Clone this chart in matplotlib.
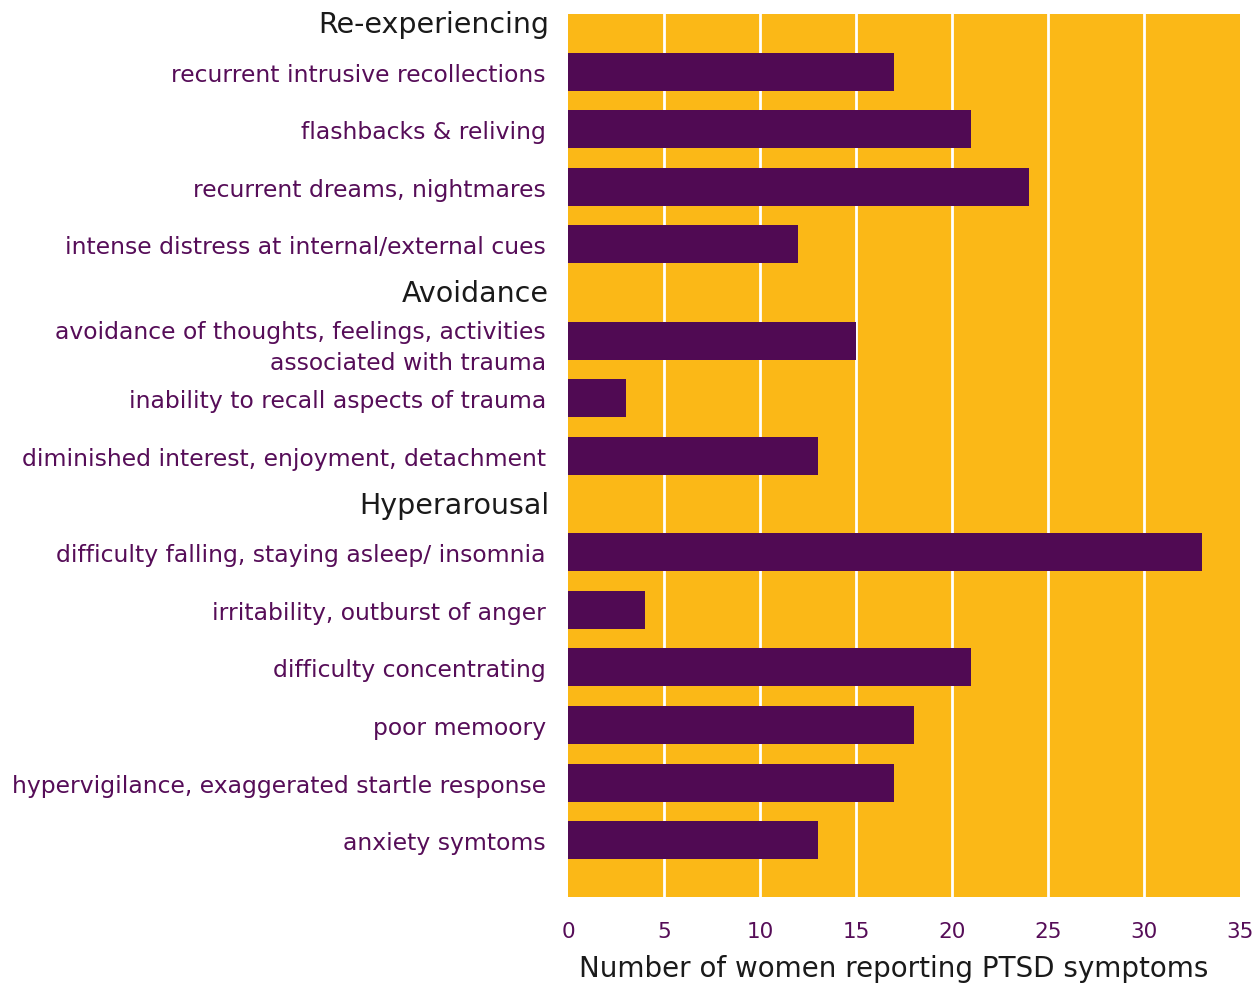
import matplotlib
matplotlib.use("Agg")
import matplotlib.pyplot as plt
import numpy as np

sections = ["Re-experiencing", "Avoidance", "Hyperarousal"]
section_of = [0, 0, 0, 0, 1, 1, 1, 2, 2, 2, 2, 2, 2]
labels = [
    "recurrent intrusive recollections",
    "flashbacks & reliving",
    "recurrent dreams, nightmares",
    "intense distress at internal/external cues",
    "avoidance of thoughts, feelings, activities\nassociated with trauma",
    "inability to recall aspects of trauma",
    "diminished interest, enjoyment, detachment",
    "difficulty falling, staying asleep/ insomnia",
    "irritability, outburst of anger",
    "difficulty concentrating",
    "poor memoory",
    "hypervigilance, exaggerated startle response",
    "anxiety symtoms",
]
values = [17, 21, 24, 12, 15, 3, 13, 33, 4, 21, 18, 17, 13]
xticks = [0, 5, 10, 15, 20, 25, 30, 35]
xlabel = "Number of women reporting PTSD symptoms"

ORANGE = "#FBB817"
PURPLE = "#500A53"
TEXT_PURPLE = "#560D58"

plt.rcParams['font.family'] = ['DejaVu Sans']

fig = plt.figure(figsize=(12.59, 9.87), dpi=100)
ax = fig.add_axes([568/1259, 1 - 898/987, (1240-568)/1259, (898-15)/987])
ax.set_facecolor(ORANGE)

gap = 0.68
pos = np.arange(len(values)) + gap * np.array(section_of)
ax.barh(pos, values, height=0.66, color=PURPLE, zorder=3)

ax.set_xlim(0, 35)
ax.set_ylim(14.35, -1.0)
ax.set_xticks(xticks)
ax.set_xticklabels([str(t) for t in xticks], color=TEXT_PURPLE, fontsize=15.5)
ax.set_yticks(pos)
ax.set_yticklabels(labels, color=TEXT_PURPLE, fontsize=16.9, linespacing=1.45)
ax.tick_params(axis='y', length=0, pad=16)
ax.tick_params(axis='x', length=0, pad=17)
for s in ax.spines.values():
    s.set_visible(False)
for t in xticks[1:-1]:
    ax.axvline(t, color="white", lw=2, zorder=2)

for k, name in enumerate(sections):
    first = pos[section_of.index(k)]
    ax.text(-0.98, first - 0.83, name, ha="right", va="center",
            fontsize=20.5, color="#1a1a1a", transform=ax.transData, clip_on=False)

ax.set_xlabel(xlabel, fontsize=20, color="#1a1a1a")
ax.xaxis.set_label_coords(0.485, -0.064)

fig.savefig("out.png", dpi=100)
